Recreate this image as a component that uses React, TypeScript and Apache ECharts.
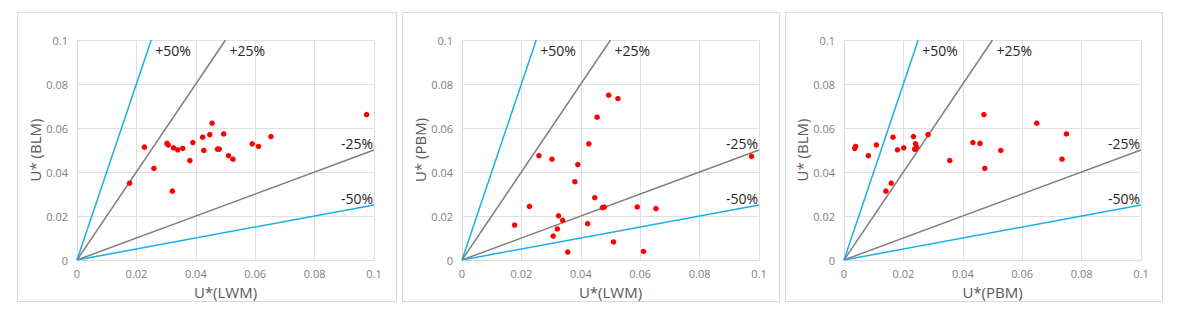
import React, { useEffect, useRef } from "react";
import * as echarts from "echarts";

// Paired observations (same sample order in each array)
const lwm = [0.0177, 0.0227, 0.0259, 0.0303, 0.0307, 0.0321, 0.0325, 0.0339, 0.0356, 0.038, 0.039, 0.0423, 0.0427, 0.0447, 0.0455, 0.0473, 0.0479, 0.0494, 0.051, 0.0525, 0.059, 0.0611, 0.0653, 0.0975];
const blm = [0.0349, 0.0513, 0.0416, 0.053, 0.0523, 0.0313, 0.051, 0.0501, 0.0507, 0.0452, 0.0534, 0.0558, 0.0498, 0.057, 0.0622, 0.0504, 0.0504, 0.0573, 0.0474, 0.0458, 0.0528, 0.0516, 0.0561, 0.0661];
const pbm = [0.0159, 0.0244, 0.0474, 0.0458, 0.0109, 0.0141, 0.0201, 0.018, 0.0036, 0.0356, 0.0434, 0.0165, 0.0528, 0.0283, 0.0649, 0.0238, 0.024, 0.0749, 0.0082, 0.0734, 0.0241, 0.0039, 0.0234, 0.0471];

const xNames = ["U*(LWM)", "U*(LWM)", "U*(PBM)"];
const yNames = ["U* (BLM)", "U* (PBM)", "U* (BLM)"];
const panelX = [lwm, lwm, pbm];
const panelY = [blm, pbm, blm];

const ratioSlopes = [4, 2, 0.5, 0.25];
const ratioLabels = ["+50%", "+25%", "-25%", "-50%"];
const ratioColors = ["#1AAFE8", "#7F7F7F", "#7F7F7F", "#1AAFE8"];

const axisMax = 0.1;
const tickStep = 0.02;

const gridLefts = [77, 462, 844];
const boxes = [
  [17, 12, 379, 289],
  [402, 12, 377, 289],
  [785, 12, 377, 289],
];

const FONT = "'Open Sans', 'Noto Sans', sans-serif";

export default function App() {
  const ref = useRef<HTMLDivElement>(null);
  useEffect(() => {
    document.body.style.margin = "0";
    const chart = echarts.init(ref.current!, null, { renderer: "svg" });
    const grid: any[] = [];
    const xAxis: any[] = [];
    const yAxis: any[] = [];
    const series: any[] = [];
    for (let p = 0; p < 3; p++) {
      grid.push({ left: gridLefts[p], top: 40, width: 297, height: 220 });
      const common = {
        gridIndex: p,
        type: "value",
        min: 0,
        max: axisMax,
        interval: tickStep,
        axisLine: { show: true, lineStyle: { color: "#D9D9D9", width: 1 } },
        axisTick: { show: false },
        axisLabel: { color: "#808080", fontSize: 11, fontFamily: FONT },
        splitLine: { show: true, lineStyle: { color: "#E0E0E0", width: 1 } },
        nameLocation: "middle",
        nameTextStyle: { color: "#595959", fontSize: 15, fontFamily: FONT },
      };
      xAxis.push({ ...common, name: xNames[p], nameGap: 24, axisLabel: { ...common.axisLabel, margin: 8 } });
      yAxis.push({ ...common, name: yNames[p], nameGap: 32, axisLabel: { ...common.axisLabel, margin: 9 } });
      ratioSlopes.forEach((s, i) => {
        const end = s >= 1 ? [axisMax / s, axisMax] : [axisMax, axisMax * s];
        series.push({
          type: "line",
          xAxisIndex: p,
          yAxisIndex: p,
          symbol: "circle",
          symbolSize: 0,
          showSymbol: true,
          lineStyle: { color: ratioColors[i], width: 1.5 },
          itemStyle: { color: ratioColors[i] },
          silent: true,
          z: 2,
          data: [
            [0, 0],
            {
              value: end,
              label: {
                show: true,
                formatter: ratioLabels[i],
                position: s >= 1 ? "right" : "left",
                distance: 3,
                offset: s >= 1 ? [1, 10] : [2, -7],
                color: "#262626",
                fontSize: 14,
                fontFamily: FONT,
              },
            },
          ],
        });
      });
      series.push({
        type: "scatter",
        xAxisIndex: p,
        yAxisIndex: p,
        symbol: "circle",
        symbolSize: 5.5,
        itemStyle: { color: "#FF0000", opacity: 1 },
        z: 5,
        data: panelX[p].map((v, k) => [v, panelY[p][k]]),
      });
    }
    chart.setOption({
      animation: false,
      backgroundColor: "#FFFFFF",
      grid,
      xAxis,
      yAxis,
      series,
      graphic: boxes.map((b) => ({
        type: "rect",
        shape: { x: b[0] + 0.5, y: b[1] + 0.5, width: b[2], height: b[3] },
        style: { fill: "none", stroke: "#D9D9D9", lineWidth: 1 },
        silent: true,
        z: -1,
      })),
    });
    return () => chart.dispose();
  }, []);
  return <div ref={ref} style={{ width: 1182, height: 317 }} />;
}
